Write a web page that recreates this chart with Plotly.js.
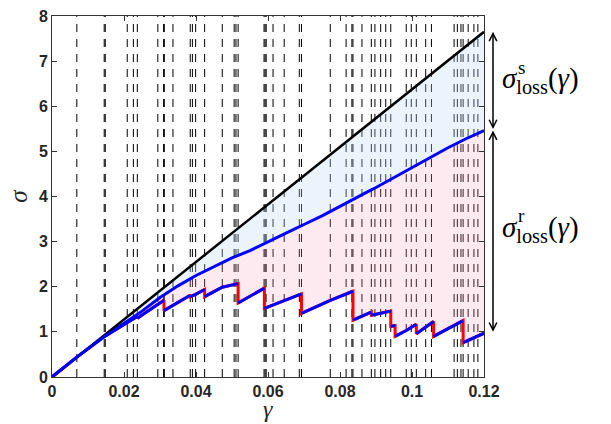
<!DOCTYPE html>
<html>
<head>
<meta charset="utf-8">
<script src="https://cdn.plot.ly/plotly-3.0.1.min.js"></script>
<style>html,body{margin:0;padding:0;background:#fff;}#plot{width:611px;height:424px;}</style>
</head>
<body>
<div id="plot"></div>
<script>
// Event strains (vertical dashed lines)
const dashGammas = [0.0069, 0.0145, 0.0148, 0.0209, 0.0226, 0.0237, 0.0294, 0.0310, 0.0312, 0.0336,
  0.0384, 0.0390, 0.0399, 0.0424, 0.0473, 0.0506, 0.0511, 0.0517, 0.0589, 0.0592, 0.0595, 0.0614,
  0.0645, 0.0687, 0.0693, 0.0773, 0.0817, 0.0833, 0.0836, 0.0861, 0.0887, 0.0897, 0.0913, 0.0927,
  0.0941, 0.0984, 0.0998, 0.1012, 0.1038, 0.1054, 0.1117, 0.1126, 0.1136, 0.1142, 0.1156, 0.1172, 0.1183];

// Sawtooth stress curve
const gammaR = [0, 0.0069, 0.0146, 0.0237, 0.0237, 0.0311, 0.0311, 0.0384, 0.0384, 0.0399, 0.0424, 0.0424,
  0.0473, 0.0517, 0.0517, 0.0590, 0.0590, 0.0693, 0.0693, 0.0773, 0.0836, 0.0836, 0.0887, 0.0887,
  0.0941, 0.0941, 0.0953, 0.0953, 0.0984, 0.1012, 0.1012, 0.1060, 0.1060, 0.1142, 0.1142, 0.12];
const sigmaR = [0, 0.44, 0.90, 1.34, 1.30, 1.70, 1.47, 1.81, 1.78, 1.83, 1.94, 1.78,
  1.99, 2.07, 1.64, 1.97, 1.52, 1.84, 1.41, 1.70, 1.90, 1.26, 1.44, 1.37,
  1.46, 1.12, 1.14, 0.90, 1.03, 1.17, 0.96, 1.23, 0.90, 1.25, 0.76, 0.97];

// Upper (smooth) blue curve
const gammaU = [0, 0.0069, 0.0146, 0.020, 0.025, 0.030, 0.035, 0.040, 0.045, 0.050, 0.055, 0.060,
  0.065, 0.070, 0.075, 0.080, 0.085, 0.088, 0.090, 0.095, 0.100, 0.105, 0.110, 0.115, 0.120];
const sigmaU = [0, 0.44, 0.90, 1.20, 1.46, 1.76, 2.02, 2.25, 2.45, 2.64, 2.80, 3.00,
  3.19, 3.38, 3.57, 3.78, 4.00, 4.12, 4.20, 4.42, 4.64, 4.86, 5.08, 5.28, 5.46];

// Black elastic line
const gammaB = [0, 0.12];
const sigmaB = [0, 7.65];

// Axis ticks
const xTickVals = [0, 0.02, 0.04, 0.06, 0.08, 0.1, 0.12];
const xTickText = ['0', '0.02', '0.04', '0.06', '0.08', '0.1', '0.12'];
const yTickVals = [0, 1, 2, 3, 4, 5, 6, 7, 8];

// build dashed line trace
const dx = [], dy = [];
dashGammas.forEach(g => { dx.push(g, g, null); dy.push(0, 8, null); });

// blue rising segments of the sawtooth (break at drops)
const bx = [], by = [];
for (let i = 0; i < gammaR.length; i++) {
  if (i > 0 && gammaR[i] === gammaR[i - 1]) { bx.push(null); by.push(null); }
  bx.push(gammaR[i]); by.push(sigmaR[i]);
}

const traces = [
  {x: dx, y: dy, mode: 'lines', line: {color: '#000', width: 1, dash: '8px,7px'}, hoverinfo: 'skip', showlegend: false},
  {x: gammaR, y: sigmaR, mode: 'lines', line: {color: '#ff0000', width: 3}, showlegend: false},
  {x: gammaU, y: sigmaU, mode: 'lines', line: {color: '#0000ff', width: 3}, fill: 'tonexty', fillcolor: 'rgba(245,160,185,0.22)', showlegend: false},
  {x: gammaB, y: sigmaB, mode: 'lines', line: {color: '#000', width: 2.5}, fill: 'tonexty', fillcolor: 'rgba(190,215,245,0.3)', showlegend: false},
  {x: bx, y: by, mode: 'lines', line: {color: '#0000ff', width: 3}, connectgaps: false, showlegend: false}
];

const L = 52, R = 127, T = 16, B = 47, W = 611, H = 424;
const pw = W - L - R, ph = H - T - B;
const px2paper = p => (p - L) / pw;
const py2paper = p => (H - B - p) / ph;

const serif = 'Liberation Serif, DejaVu Serif, serif';
const arrowX = px2paper(493);
const lossText = '<i>σ</i><sub>loss</sub>(<i>γ</i>)';

const layout = {
  width: W, height: H,
  margin: {l: L, r: R, t: T, b: B, pad: 0},
  paper_bgcolor: '#fff', plot_bgcolor: '#fff',
  showlegend: false,
  xaxis: {
    range: [0, 0.12], tickvals: xTickVals, ticktext: xTickText,
    ticks: 'inside', ticklen: 5, tickcolor: '#333', showline: true, linecolor: '#333', linewidth: 1,
    mirror: 'ticks', showgrid: false, zeroline: false,
    tickfont: {family: 'Liberation Sans, Arial, sans-serif', size: 16, color: '#262626', weight: 'bold'}
  },
  yaxis: {
    range: [0, 8], tickvals: yTickVals,
    ticks: 'inside', ticklen: 5, tickcolor: '#333', showline: true, linecolor: '#333', linewidth: 1,
    mirror: 'ticks', showgrid: false, zeroline: false,
    tickfont: {family: 'Liberation Sans, Arial, sans-serif', size: 16, color: '#262626', weight: 'bold'},
    title: {text: '<i>σ</i>', font: {family: serif, size: 25, color: '#262626'}, standoff: 4}
  },
  annotations: [
    {xref: 'paper', yref: 'paper', x: 0.5, y: py2paper(409), xanchor: 'center', yanchor: 'middle', showarrow: false,
     text: '<i>γ</i>', font: {family: serif, size: 24, color: '#262626'}},
    {xref: 'paper', yref: 'y', x: arrowX, y: sigmaB[1], axref: 'pixel', ayref: 'y', ax: 0, ay: sigmaU[sigmaU.length - 1],
     text: '', showarrow: true, arrowhead: 5, startarrowhead: 5, arrowside: 'end+start', arrowsize: 1, startarrowsize: 1, arrowwidth: 1.5, arrowcolor: '#000', standoff: 0, startstandoff: 0},
    {xref: 'paper', yref: 'y', x: arrowX, y: sigmaU[sigmaU.length - 1], axref: 'pixel', ayref: 'y', ax: 0, ay: sigmaR[sigmaR.length - 1],
     text: '', showarrow: true, arrowhead: 5, startarrowhead: 5, arrowside: 'end+start', arrowsize: 1, startarrowsize: 1, arrowwidth: 1.5, arrowcolor: '#000', standoff: 0, startstandoff: 0},
    {xref: 'paper', yref: 'paper', x: px2paper(500), y: py2paper(80), xanchor: 'left', yanchor: 'middle', showarrow: false,
     text: lossText, font: {family: serif, size: 29, color: '#000'}},
    {xref: 'paper', yref: 'paper', x: px2paper(516), y: py2paper(67), xanchor: 'left', yanchor: 'middle', showarrow: false,
     text: 's', font: {family: serif, size: 19, color: '#000'}},
    {xref: 'paper', yref: 'paper', x: px2paper(500), y: py2paper(229), xanchor: 'left', yanchor: 'middle', showarrow: false,
     text: lossText, font: {family: serif, size: 29, color: '#000'}},
    {xref: 'paper', yref: 'paper', x: px2paper(516), y: py2paper(215), xanchor: 'left', yanchor: 'middle', showarrow: false,
     text: 'r', font: {family: serif, size: 19, color: '#000'}}
  ]
};

Plotly.newPlot('plot', traces, layout, {displayModeBar: false, staticPlot: true});
</script>
</body>
</html>
